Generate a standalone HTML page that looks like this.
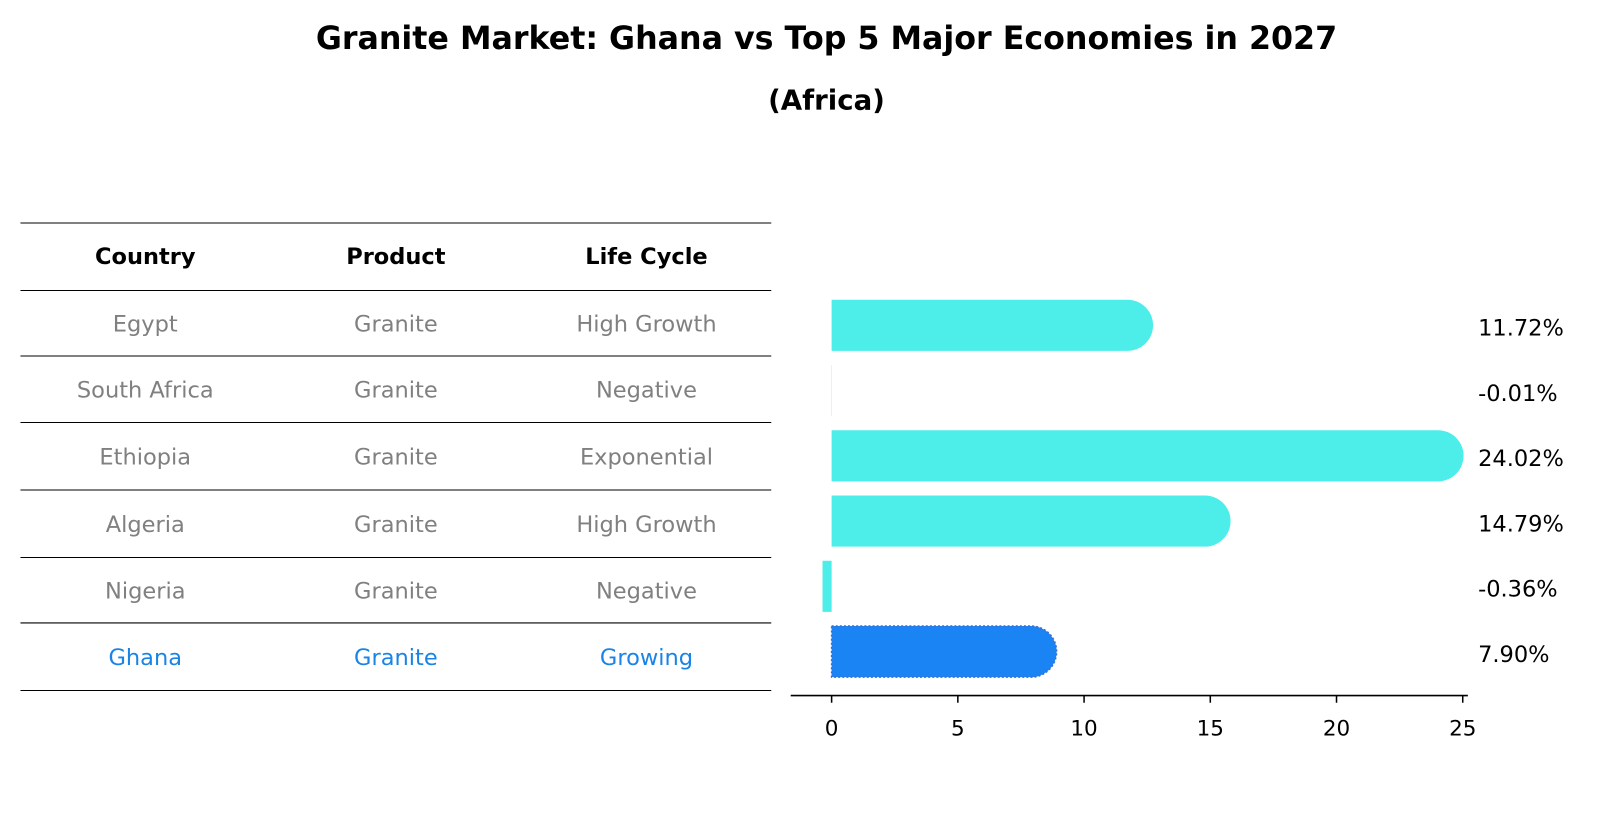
<!DOCTYPE html>
<html><head><meta charset="utf-8"><style>
body{margin:0;background:#fff;width:1604px;height:823px;overflow:hidden;font-family:"DejaVu Sans","Liberation Sans",sans-serif}
</style></head><body>
<svg width="1604" height="823" xmlns="http://www.w3.org/2000/svg" font-family="DejaVu Sans, Liberation Sans, sans-serif">
<g transform="scale(1.0229)">
<text x="808" y="48" text-anchor="middle" font-size="31" font-weight="bold">Granite Market: Ghana vs Top 5 Major Economies in 2027</text>
<text x="808" y="107" text-anchor="middle" font-size="27" font-weight="bold">(Africa)</text>
<g id="table"></g>
<g id="bars"></g>
</g>
</svg>
<script>
const countries=["Egypt","South Africa","Ethiopia","Algeria","Nigeria","Ghana"];
const products=["Granite","Granite","Granite","Granite","Granite","Granite"];
const lifeCycles=["High Growth","Negative","Exponential","High Growth","Negative","Growing"];
const values=[11.72,-0.01,24.02,14.79,-0.36,7.90];
const valueLabels=["11.72%","-0.01%","24.02%","14.79%","-0.36%","7.90%"];
const ticks=[0,5,10,15,20,25];
const NS="http://www.w3.org/2000/svg";
function mk(t,a,p){const e=document.createElementNS(NS,t);for(const k in a)e.setAttribute(k,a[k]);p.appendChild(e);return e;}
const tb=document.getElementById('table');
const lines=[218,284,348,413,479,545,609,675];
lines.forEach(y=>{const l=mk('line',{x1:20,x2:754,y1:y,y2:y,stroke:'#000','stroke-width':1},tb);

});
const cx=[142,387,632];
["Country","Product","Life Cycle"].forEach((h,i)=>{const t=mk('text',{x:cx[i],y:258,'text-anchor':'middle','font-size':22,'font-weight':'bold'},tb);t.textContent=h;

});
countries.forEach((c,r)=>{const y=(lines[r+1]+lines[r+2])/2+8;const col=r==5?'#1a84e6':'#808080';
[c,products[r],lifeCycles[r]].forEach((v,i)=>{const t=mk('text',{x:cx[i],y:y,'text-anchor':'middle','font-size':22,fill:col},tb);t.textContent=v;

});});
const bg=document.getElementById('bars');
const X=v=>813+v*24.68;
const rowY=r=>318+r*63.8;
const H=50,R=25;
values.forEach((v,r)=>{const yc=rowY(r),y0=yc-H/2,xv=X(v),x0=X(0);
const col=r==5?'#1a84f5':'#4deeea';let el;
if(v>0.5){el=mk('path',{d:`M${x0},${y0} L${xv},${y0} A${R},${R} 0 0 1 ${xv},${y0+H} L${x0},${y0+H} Z`,fill:col},bg);}
else{el=mk('rect',{x:Math.min(x0,xv),y:y0,width:Math.max(Math.abs(xv-x0),0.01),height:H,fill:col},bg);}
if(r==5){el.setAttribute('stroke','#3a6fd0');el.setAttribute('stroke-dasharray','2,2');el.setAttribute('stroke-width','1.5');}


const t=mk('text',{x:1445,y:yc+10,'font-size':22},bg);t.textContent=valueLabels[r];

});
const ax=mk('line',{x1:773,x2:1435,y1:680,y2:680,stroke:'#000','stroke-width':1.5},bg);


ticks.forEach(v=>{const tk=mk('line',{x1:X(v),x2:X(v),y1:680,y2:687,stroke:'#000','stroke-width':1.5},bg);


const t=mk('text',{x:X(v),y:719,'text-anchor':'middle','font-size':21},bg);t.textContent=v;

});
</script>
</body></html>
